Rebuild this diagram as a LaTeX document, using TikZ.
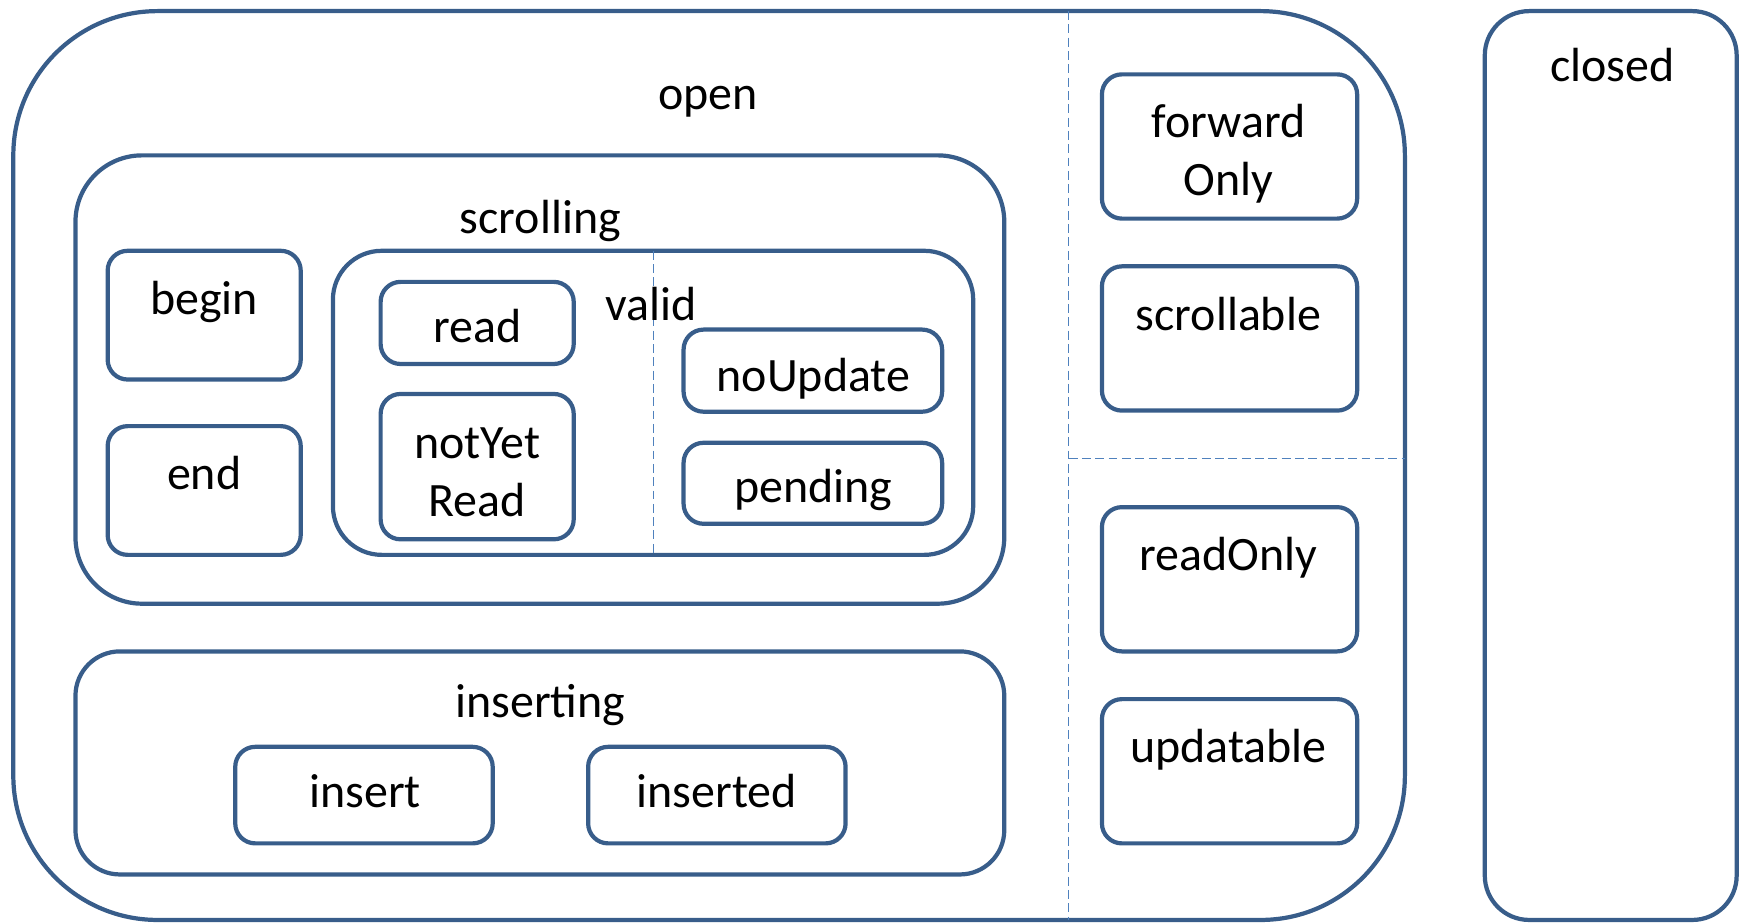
\documentclass[tikz,border=0pt]{standalone}
\usepackage{fontspec}
\setmainfont{Carlito}
\usetikzlibrary{positioning}
\definecolor{stblue}{RGB}{56,93,138}
\definecolor{stdash}{RGB}{79,129,189}
\tikzset{
  stateline/.style={draw=stblue,line width=1.9pt},
  divider/.style={draw=stdash,line width=.6pt,dash pattern=on 4pt off 2pt},
  statename/.style={anchor=base,inner sep=0pt,font=\fontsize{21.6}{26}\selectfont},
}
% name, x1, y1, x2, y2, corner radius
\newcommand{\statebox}[6]{%
  \draw[stateline,rounded corners=#6] (#2,#3) coordinate (#1-nw)
    rectangle (#4,#5) coordinate (#1-se);
}

\begin{document}
\begin{tikzpicture}[x=.5pt,y=-.5pt]
    \useasboundingbox (0,0) rectangle (1568,832);
    % open
    \statebox{open}{12}{10}{1266}{829}{65pt}
    \node[statename] (opentxt) at (638,99) {open};
    \draw[divider] (963,10) -- (963,829);
    \draw[divider] (963,413) -- (1266,413);
    % scrolling
    \statebox{scrolling}{68}{140}{905}{544}{30pt}
    \node[statename] (scrollingtxt) at (487,210) {scrolling};
    \statebox{begin}{97}{226}{271}{342}{9pt}
    \node[statename] (begintxt) at (184,283) {begin};
    \statebox{end}{97}{384}{271}{500}{9pt}
    \node[statename] (endtxt) at (184,441) {end};
    % valid
    \statebox{valid}{300}{226}{877}{500}{22pt}
    \draw[divider] (589,226) -- (589,500);
    \node[statename] (validtxt) at (587,289) {valid};
    \statebox{read}{343}{254}{517}{328}{9pt}
    \node[statename] (readtxt) at (430,309) {read};
    \statebox{notyet}{343}{355}{517}{486}{9pt}
    \node[statename] (notyettxt) at (430,413) {notYet};
    \node[statename] (notyettxt2) at (430,465) {Read};
    \statebox{noupdate}{616}{297}{849}{371}{9pt}
    \node[statename] (noupdatetxt) at (733,353) {noUpdate};
    \statebox{pending}{616}{399}{849}{472}{9pt}
    \node[statename] (pendingtxt) at (733,453) {pending};
    % inserting
    \statebox{inserting}{68}{587}{905}{788}{20pt}
    \node[statename] (insertingtxt) at (487,647) {inserting};
    \statebox{insert}{212}{673}{444}{760}{9pt}
    \node[statename] (inserttxt) at (329,728) {insert};
    \statebox{inserted}{530}{673}{762}{760}{9pt}
    \node[statename] (insertedtxt) at (646,728) {inserted};
    % cursor kinds
    \statebox{fwd}{993}{67}{1223}{197}{9pt}
    \node[statename] (fwdtxt) at (1107,124) {forward};
    \node[statename] (fwdtxt2) at (1107,176) {Only};
    \statebox{scrollable}{993}{240}{1223}{370}{9pt}
    \node[statename] (scrollabletxt) at (1107,298) {scrollable};
    \statebox{readonly}{993}{457}{1223}{587}{9pt}
    \node[statename] (readonlytxt) at (1107,514) {readOnly};
    \statebox{updatable}{993}{630}{1223}{760}{9pt}
    \node[statename] (updatabletxt) at (1107,687) {updatable};
    % closed
    \statebox{closed}{1338}{10}{1565}{829}{20pt}
    \node[statename] (closedtxt) at (1453,73) {closed};
  \end{tikzpicture}
\end{document}
